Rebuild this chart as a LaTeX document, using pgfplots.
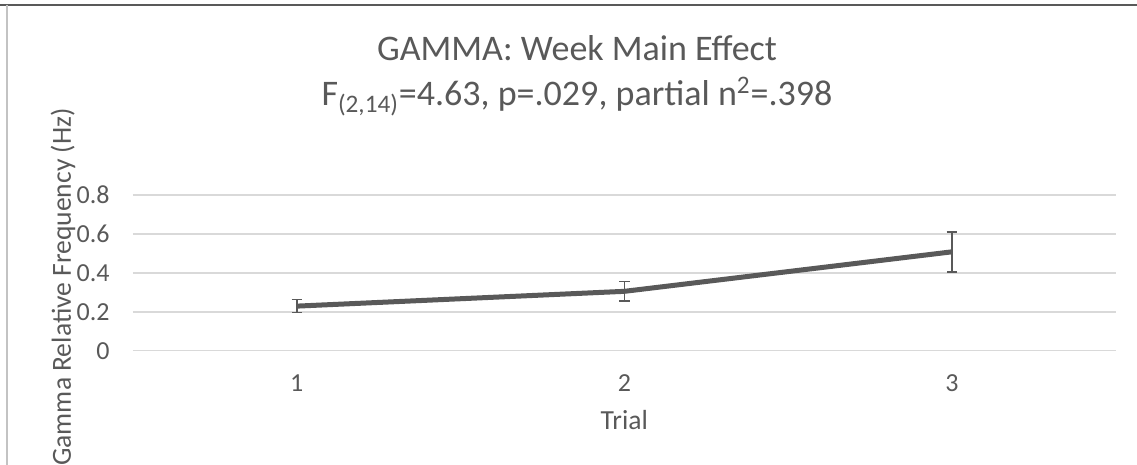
\documentclass[border=0pt]{standalone}
\usepackage{fontspec}
\setmainfont{Carlito}
\usepackage{pgfplots}
\pgfplotsset{compat=1.18}
\definecolor{textc}{HTML}{595959}
\definecolor{gridc}{HTML}{D9D9D9}
\definecolor{linec}{HTML}{595959}
\begin{document}
\begin{tikzpicture}
\useasboundingbox (0,0) rectangle (568.5pt,232.5pt);
\draw[color=textc, line width=0.9pt] (0,230.15pt) -- (568.5pt,230.15pt);
\draw[color=gridc!90!black, line width=0.75pt] (3.5pt,230.15pt) -- (3.5pt,0);
\begin{axis}[
  at={(66.5pt,57.15pt)}, anchor=south west,
  scale only axis, width=491.35pt, height=77.85pt,
  xmin=0.5, xmax=3.5, ymin=0, ymax=0.8,
  xtick={1,2,3}, ytick={0,0.2,0.4,0.6,0.8},
  ymajorgrids, grid style={color=gridc, line width=0.75pt},
  axis line style={draw=none}, major tick length=0pt,
  /pgf/number format/assume math mode=true,
  tick label style={font=\fontsize{13}{15}\selectfont, text=textc, inner sep=0pt},
  yticklabel style={anchor=east, xshift=-11.5pt},
  xticklabel style={anchor=north, yshift=-11.8pt},
  xlabel={Trial},
  xlabel style={at={(axis description cs:0.5,0)}, anchor=base, yshift=-39.2pt, font=\fontsize{13.8}{16}\selectfont, text=textc},
  ylabel={Gamma Relative Frequency (Hz)},
  ylabel style={at={(axis description cs:-0.0712,0.409)}, anchor=center, font=\fontsize{13.8}{16}\selectfont, text=textc},
  clip=false,
]
\addplot[color=linec, line width=2.5pt, line join=round, mark=none,
  error bars/.cd, y dir=both, y explicit,
  error bar style={line width=0.75pt, color=linec},
  error mark options={rotate=90, mark size=2.6pt, line width=0.75pt, color=linec}]
  coordinates {
  (1,0.229) +- (0,0.034)
  (2,0.305) +- (0,0.050)
  (3,0.508) +- (0,0.103)
};
\end{axis}
\node[anchor=base, text=textc, font=\fontsize{18}{21}\selectfont] at (288.5pt,202pt) {GAMMA: Week Main Effect};
\node[anchor=base, text=textc, font=\fontsize{18}{21}\selectfont] at (288.5pt,179.5pt) {F\textsubscript{(2,14)}=4.63, p=.029, partial n\textsuperscript{2}=.398};
\end{tikzpicture}
\end{document}
